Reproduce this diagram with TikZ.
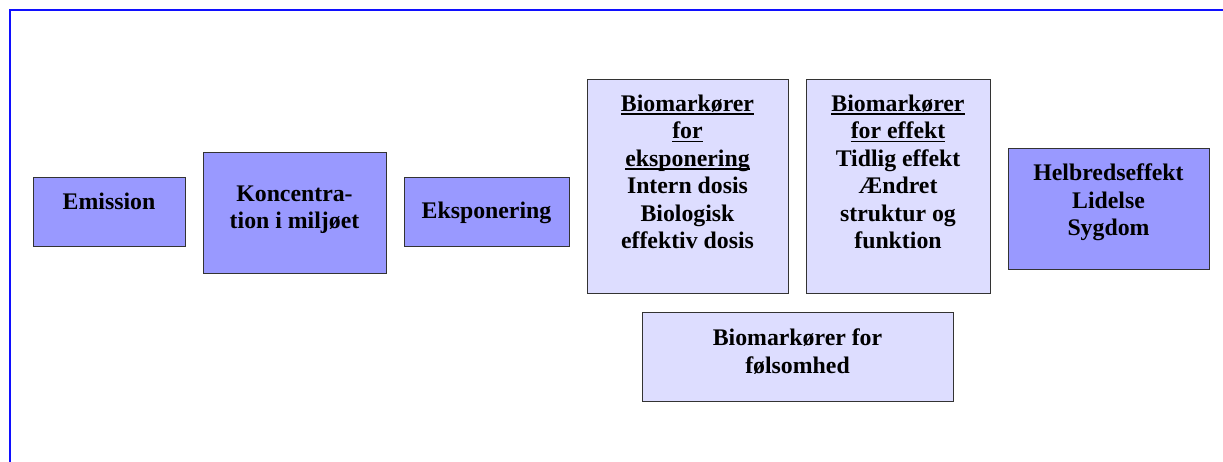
\documentclass[tikz,border=0pt]{standalone}
\usepackage{fontspec}
\setmainfont{Liberation Serif}
\newcommand\myul[1]{\setbox0\hbox{#1}\rlap{\rule[-3.2pt]{\wd0}{1.6pt}}\box0}
\definecolor{darkfill}{HTML}{9999FF}
\definecolor{lightfill}{HTML}{DDDDFF}
\definecolor{edge}{HTML}{333333}
\definecolor{frameblue}{HTML}{1010FF}
\tikzset{
  boxbase/.style={draw=edge, line width=1.3pt, rectangle, inner sep=0pt, anchor=north west},
  darkbox/.style={boxbase, fill=darkfill},
  lightbox/.style={boxbase, fill=lightfill},
  txt/.style={inner sep=0pt, anchor=base, align=center, font={\fontsize{23.8}{27.5}\selectfont\bfseries}},
}
\begin{document}
\begin{tikzpicture}[x=1pt,y=-1pt]
\useasboundingbox (0,0) rectangle (1223,462);
\fill[white] (0,0) rectangle (1223,462);
\draw[frameblue, line width=2.2pt] (10,480) -- (10,10) -- (1240,10);

\node[darkbox, minimum width=152pt, minimum height=69pt] (emis) at (33,177) {};
\node[txt] (emisT) at (109,210) {Emission};

\node[darkbox, minimum width=183pt, minimum height=121pt] (konc) at (203,152) {};
\node[txt] (koncT) at (294.5,229) {Koncentra-\\tion i miljøet};

\node[darkbox, minimum width=165pt, minimum height=69pt] (eksp) at (404,177) {};
\node[txt] (ekspT) at (486.5,219) {Eksponering};

\node[lightbox, minimum width=201pt, minimum height=214pt] (bioe) at (587,79) {};
\node[txt] (bioeT) at (687.5,249) {\myul{Biomarkører}\\\myul{for}\\\myul{eksponering}\\Intern dosis\\Biologisk\\effektiv dosis};

\node[lightbox, minimum width=184pt, minimum height=214pt] (biof) at (806,79) {};
\node[txt] (biofT) at (898,249) {\myul{Biomarkører}\\\myul{for effekt}\\Tidlig effekt\hspace{16pt}\\Ændret\\struktur og\\funktion};

\node[darkbox, minimum width=201pt, minimum height=121pt] (helb) at (1008,148) {};
\node[txt] (helbT) at (1108.5,236) {Helbredseffekt\\Lidelse\\Sygdom};

\node[lightbox, minimum width=311pt, minimum height=89pt] (fols) at (642,312) {};
\node[txt] (folsT) at (797.5,373) {Biomarkører for\\følsomhed};
\end{tikzpicture}
\end{document}
